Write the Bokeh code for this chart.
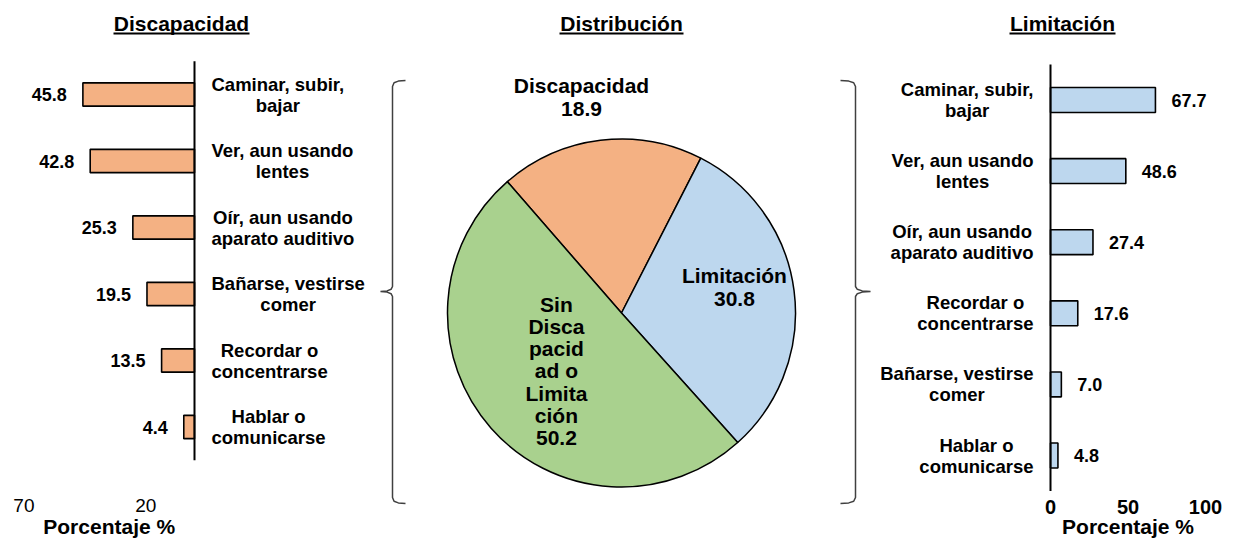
import math
from bokeh.plotting import figure
from bokeh.models import Range1d, ColumnDataSource
from bokeh.core.properties import value
from bokeh.embed import file_html
from bokeh.resources import INLINE

# ---------------- data ----------------
disc_categories = ["Caminar, subir,\nbajar", "Ver, aun usando\nlentes",
                   "Oír, aun usando\naparato auditivo", "Bañarse, vestirse\ncomer",
                   "Recordar o\nconcentrarse", "Hablar o\ncomunicarse"]
disc_values = [45.8, 42.8, 25.3, 19.5, 13.5, 4.4]

lim_categories = ["Caminar, subir,\nbajar", "Ver, aun usando\nlentes",
                  "Oír, aun usando\naparato auditivo", "Recordar o\nconcentrarse",
                  "Bañarse, vestirse\ncomer", "Hablar o\ncomunicarse"]
lim_values = [67.7, 48.6, 27.4, 17.6, 7.0, 4.8]

pie_names = ["Discapacidad", "Limitación", "Sin\nDisca\npacid\nad o\nLimita\nción"]
pie_values = [18.9, 30.8, 50.2]

disc_ticks = [70, 20]
lim_ticks = [0, 50, 100]
disc_axis_span = [0, 70]
lim_axis_span = [0, 100]

titles = ["Discapacidad", "Distribución", "Limitación"]
axis_title = "Porcentaje %"

# ---------------- layout / style ----------------
W, H = 1225, 540
FONT = value("Liberation Sans")
ORANGE, BLUE, GREEN = "#F4B183", "#BDD7EE", "#A9D18E"

L_ZERO, L_SCALE, L_ROW0, L_ROW = 194.0, 2.437, 94.0, 66.5
R_ZERO, R_SCALE, R_ROW0, R_ROW = 1050.0, 1.55, 99.5, 71.1
PIE_CX, PIE_CY, PIE_R = 621.0, 312.5, 174.0
START_ANGLE = math.radians(131)
TICK_Y, AXTITLE_Y = 505, 526

p = figure(width=W, height=H, output_backend="svg", toolbar_location=None,
           x_range=Range1d(0, W), y_range=Range1d(H, 0),
           x_axis_location=None, y_axis_location=None, min_border=0)
p.grid.visible = False
p.outline_line_color = None
p.background_fill_color = "white"
p.border_fill_color = "white"

p.extra_x_ranges = {
    "lx": Range1d(start=L_ZERO / L_SCALE, end=-(W - L_ZERO) / L_SCALE),
    "rx": Range1d(start=-R_ZERO / R_SCALE, end=(W - R_ZERO) / R_SCALE),
    "px": Range1d(start=-PIE_CX / PIE_R, end=(W - PIE_CX) / PIE_R),
}
p.extra_y_ranges = {
    "ly": Range1d(start=(H - L_ROW0) / L_ROW, end=-L_ROW0 / L_ROW),
    "ry": Range1d(start=(H - R_ROW0) / R_ROW, end=-R_ROW0 / R_ROW),
    "py": Range1d(start=-(H - PIE_CY) / PIE_R, end=PIE_CY / PIE_R),
}

# ---------------- left panel: Discapacidad ----------------
n = len(disc_values)
ldx = list(range(n))
lsrc = ColumnDataSource(dict(y=ldx, v=disc_values, zero=[0] * n,
                             lbl=[f"{v:.1f}" for v in disc_values], cat=disc_categories))
p.hbar(y="y", left="v", right="zero", height=0.35, source=lsrc,
       fill_color=ORANGE, line_color="black", line_width=1.6,
       x_range_name="lx", y_range_name="ly")
p.segment(x0=[0], y0=[-0.5], x1=[0], y1=[n - 0.5], line_color="black", line_width=2,
          x_range_name="lx", y_range_name="ly")
p.text(x="v", y="y", text="lbl", source=lsrc, x_offset=-16, text_align="right",
       text_baseline="middle", text_font=FONT, text_font_style="bold",
       text_font_size="18px", text_color="black", x_range_name="lx", y_range_name="ly")
p.text(x="zero", y="y", text="cat", source=lsrc, x_offset=17, anchor="center_left",
       text_align="center", text_baseline="middle", text_line_height=1.0,
       text_font=FONT, text_font_style="bold", text_font_size="18.5px",
       text_color="black", x_range_name="lx", y_range_name="ly")
p.text(x=disc_ticks, y=[TICK_Y] * len(disc_ticks), text=[str(t) for t in disc_ticks],
       text_align="center", text_baseline="middle", text_font=FONT,
       text_font_size="19px", text_color="black", x_range_name="lx")
p.text(x=[sum(disc_axis_span) / 2], y=[AXTITLE_Y], text=[axis_title], text_align="center",
       text_baseline="middle", text_font=FONT, text_font_style="bold",
       text_font_size="21px", text_color="black", x_range_name="lx")

# ---------------- right panel: Limitación ----------------
m = len(lim_values)
rdx = list(range(m))
rsrc = ColumnDataSource(dict(y=rdx, v=lim_values, zero=[0] * m,
                             lbl=[f"{v:.1f}" for v in lim_values], cat=lim_categories))
p.hbar(y="y", left="zero", right="v", height=0.35, source=rsrc,
       fill_color=BLUE, line_color="black", line_width=1.6,
       x_range_name="rx", y_range_name="ry")
p.segment(x0=[0], y0=[-0.5], x1=[0], y1=[m - 0.5], line_color="black", line_width=2,
          x_range_name="rx", y_range_name="ry")
p.text(x="v", y="y", text="lbl", source=rsrc, x_offset=16, text_align="left",
       text_baseline="middle", text_font=FONT, text_font_style="bold",
       text_font_size="18px", text_color="black", x_range_name="rx", y_range_name="ry")
p.text(x="zero", y="y", text="cat", source=rsrc, x_offset=-17, anchor="center_right",
       text_align="center", text_baseline="middle", text_line_height=1.0,
       text_font=FONT, text_font_style="bold", text_font_size="18.5px",
       text_color="black", x_range_name="rx", y_range_name="ry")
p.text(x=lim_ticks, y=[TICK_Y + 1] * len(lim_ticks), text=[str(t) for t in lim_ticks],
       text_align="center", text_baseline="middle", text_font=FONT,
       text_font_style="bold", text_font_size="20px", text_color="black",
       x_range_name="rx")
p.text(x=[sum(lim_axis_span) / 2], y=[AXTITLE_Y], text=[axis_title], text_align="center",
       text_baseline="middle", text_font=FONT, text_font_style="bold",
       text_font_size="21px", text_color="black", x_range_name="rx")

# ---------------- middle: pie ----------------
total = sum(pie_values)
starts, ends, cum = [], [], 0.0
for v in pie_values:
    starts.append(START_ANGLE - 2 * math.pi * cum / total)
    cum += v
    ends.append(START_ANGLE - 2 * math.pi * cum / total)
p.wedge(x=0, y=0, radius=1, start_angle=starts, end_angle=ends, direction="clock",
        fill_color=[ORANGE, BLUE, GREEN], line_color="black", line_width=1.5,
        x_range_name="px", y_range_name="py")
pie_lbl_x = [-0.23, 0.649, -0.374]
pie_lbl_y = [1.241, 0.149, -0.333]
p.text(x=pie_lbl_x, y=pie_lbl_y,
       text=[f"{nm}\n{v:.1f}" for nm, v in zip(pie_names, pie_values)],
       anchor="center", text_align="center", text_baseline="middle",
       text_line_height=0.97, text_font=FONT, text_font_style="bold",
       text_font_size="21px", text_color="black", x_range_name="px", y_range_name="py")

# ---------------- titles with underline ----------------
title_cx = [181, PIE_CX, 1062]
title_w = [136, 124, 106]
p.text(x=title_cx, y=[23] * 3, text=titles, text_align="center",
       text_baseline="middle", text_font=FONT, text_font_style="bold",
       text_font_size="21px", text_color="black")
p.segment(x0=[c - w / 2 for c, w in zip(title_cx, title_w)], y0=[33] * 3,
          x1=[c + w / 2 for c, w in zip(title_cx, title_w)], y1=[33] * 3,
          line_color="black", line_width=2)


# ---------------- braces ----------------
def brace(xs, yt, ym, yb, hook, tip):
    pts = [(xs + hook, yt), (xs + hook * 0.45, yt + 0.6), (xs + hook * 0.12, yt + 2.2),
           (xs, yt + 6), (xs, ym - 5), (xs + tip * 0.12, ym - 2.2),
           (xs + tip * 0.45, ym - 0.6), (xs + tip, ym), (xs + tip * 0.45, ym + 0.6),
           (xs + tip * 0.12, ym + 2.2), (xs, ym + 5), (xs, yb - 6),
           (xs + hook * 0.12, yb - 2.2), (xs + hook * 0.45, yb - 0.6), (xs + hook, yb)]
    return [a for a, _ in pts], [b for _, b in pts]


bx1, by1 = brace(392, 80, 291, 503, 13, -12)
bx2, by2 = brace(855, 80, 291, 503, -15, 15)
p.multi_line(xs=[bx1, bx2], ys=[by1, by2], line_color="#404040", line_width=1.5)

open("out.html", "w").write(file_html(p, INLINE))
